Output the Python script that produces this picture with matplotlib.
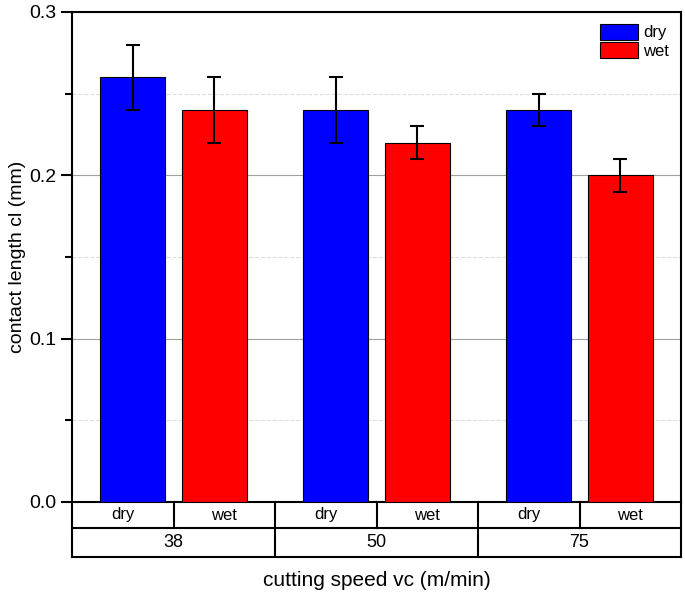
import matplotlib.pyplot as plt
import numpy as np

plt.rcParams['font.family'] = ['Liberation Sans', 'DejaVu Sans']

speeds = ['38', '50', '75']
conditions = ['dry', 'wet']
dry_vals = [0.26, 0.24, 0.24]
dry_err = [0.02, 0.02, 0.01]
wet_vals = [0.24, 0.22, 0.20]
wet_err = [0.02, 0.01, 0.01]
colors = {'dry': '#0000ff', 'wet': '#ff0000'}

W, H = 685, 595
fig = plt.figure(figsize=(W / 100, H / 100), dpi=100)

left, right, top, bottom = 72, 681, 12, 502
ax = fig.add_axes([left / W, 1 - bottom / H, (right - left) / W, (bottom - top) / H])

x = np.arange(len(speeds))
off, bw = 0.2, 0.32
err_kw = dict(ecolor='black', elinewidth=1.5, capsize=5, capthick=1.5)
ax.bar(x - off, dry_vals, bw, yerr=dry_err, color=colors['dry'], edgecolor='black',
       linewidth=0.8, error_kw=err_kw, label='dry', zorder=3)
ax.bar(x + off, wet_vals, bw, yerr=wet_err, color=colors['wet'], edgecolor='black',
       linewidth=0.8, error_kw=err_kw, label='wet', zorder=3)

ax.set_xlim(-0.5, len(speeds) - 0.5)
ax.set_ylim(0, 0.3)
ax.set_yticks([0.0, 0.1, 0.2, 0.3])
ax.set_yticks([0.05, 0.15, 0.25], minor=True)
ax.set_yticklabels(['0.0', '0.1', '0.2', '0.3'])
ax.set_xticks([])
ax.tick_params(axis='y', which='major', direction='out', length=8, width=1.5, labelsize=14)
ax.tick_params(axis='y', which='minor', direction='out', length=5, width=1.5)
ax.grid(axis='y', which='major', color='#a0a0a0', linewidth=0.8, zorder=0)
ax.grid(axis='y', which='minor', color='#dddddd', linestyle='--', linewidth=0.8, zorder=0)
for s in ax.spines.values():
    s.set_linewidth(1.5)
ax.set_ylabel('contact length cl (mm)', fontsize=14, labelpad=2)

ax.legend(loc='upper right', frameon=False, fontsize=12, handlelength=2.3,
          handleheight=1.1, borderaxespad=0.3, labelspacing=0.1, handletextpad=0.3)

# two-level category table below the axis
tb_top, tb_mid, tb_bot = 502, 528, 557
tax = fig.add_axes([left / W, 1 - tb_bot / H, (right - left) / W, (tb_bot - tb_top) / H])
tax.set_xlim(-0.5, len(speeds) - 0.5)
tax.set_ylim(0, tb_bot - tb_top)
tax.axis('off')
ymid = tb_bot - tb_mid
lk = dict(color='black', linewidth=1.5, clip_on=False)
tax.plot([-0.5, len(speeds) - 0.5], [ymid, ymid], **lk)
tax.plot([-0.5, len(speeds) - 0.5], [0, 0], **lk)
tax.plot([-0.5, -0.5], [0, tb_bot - tb_top], **lk)
tax.plot([len(speeds) - 0.5] * 2, [0, tb_bot - tb_top], **lk)
for i, sp in enumerate(speeds):
    if i > 0:
        tax.plot([i - 0.5, i - 0.5], [0, tb_bot - tb_top], **lk)
    tax.plot([i, i], [ymid, tb_bot - tb_top], **lk)
    tax.text(i - 0.25, (ymid + tb_bot - tb_top) / 2, conditions[0], ha='center', va='center', fontsize=12)
    tax.text(i + 0.25, (ymid + tb_bot - tb_top) / 2, conditions[1], ha='center', va='center', fontsize=12)
    tax.text(i, ymid / 2, sp, ha='center', va='center', fontsize=13)

fig.text((left + right) / 2 / W, 1 - 580 / H, 'cutting speed vc (m/min)', ha='center', va='center', fontsize=15)

fig.savefig('out.png', dpi=100)
